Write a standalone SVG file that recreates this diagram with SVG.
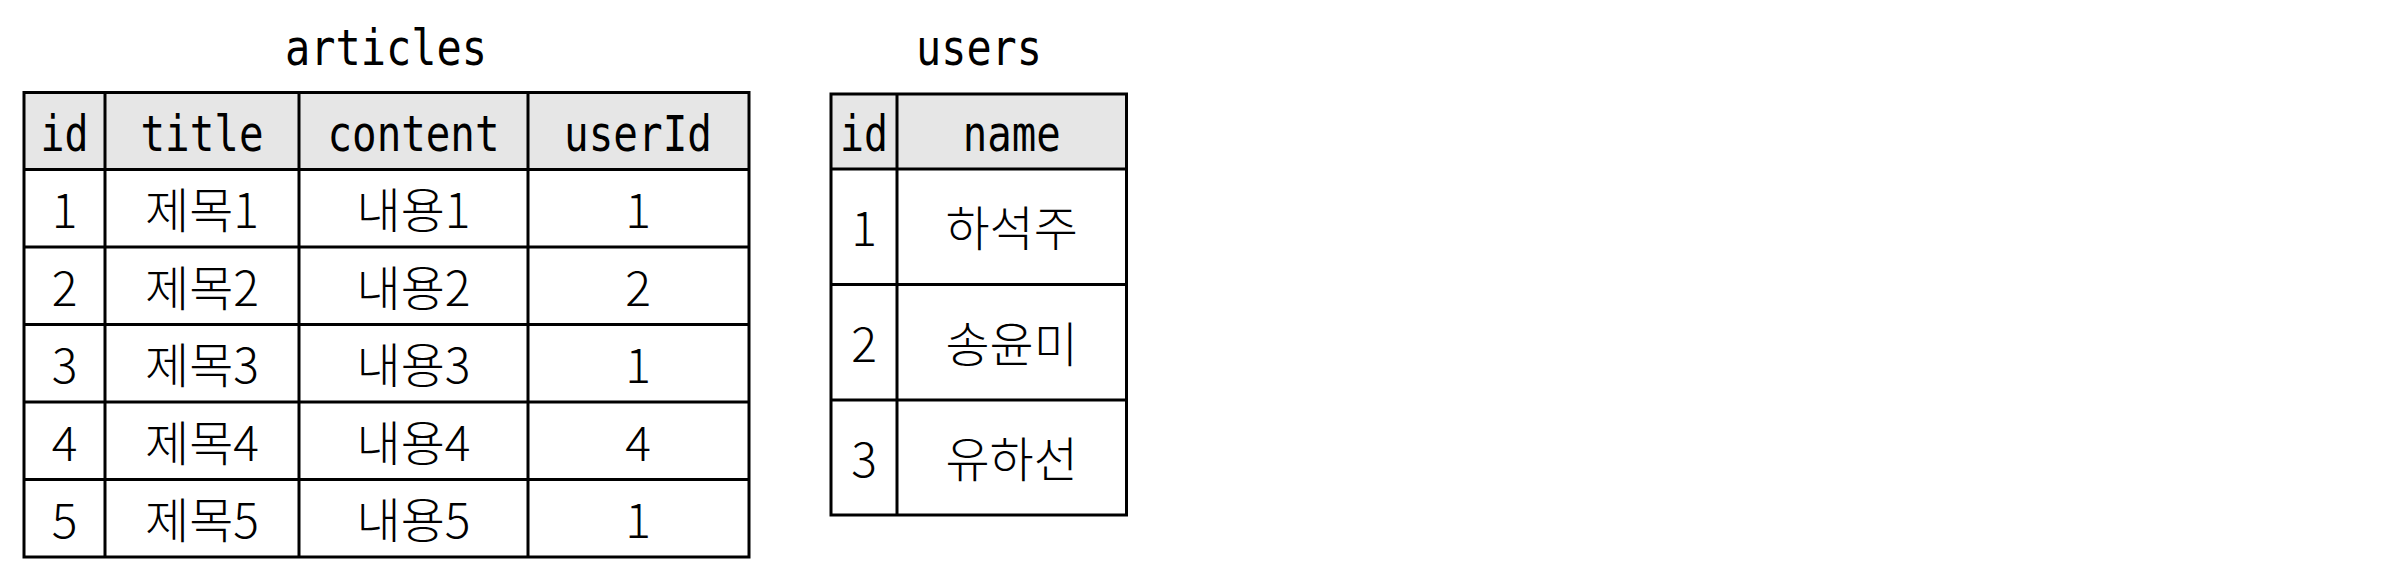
<svg xmlns="http://www.w3.org/2000/svg" width="2402" height="572" viewBox="0 0 2402 572">
<style>
.bg{fill:#ffffff}
.hdr{fill:#e6e6e6;stroke:none}
.grid{stroke:#000;stroke-width:3;fill:none}
.mono{font-family:"DejaVu Sans Mono","Liberation Mono",monospace;font-size:50px;fill:#000;text-anchor:middle}
.cell{font-family:"Noto Sans CJK KR","Noto Sans",sans-serif;font-weight:300;font-size:48px;fill:#000;text-anchor:middle}
</style>
<rect class="bg" x="0" y="0" width="2402" height="572"/>
<g id="articles">
  <text class="mono" x="386" y="65" textLength="202" lengthAdjust="spacingAndGlyphs">articles</text>
  <rect class="hdr" x="24" y="92.5" width="725" height="77"/>
  <g class="grid">
    <rect x="24" y="92.5" width="725" height="464.5"/>
    <line x1="24" y1="169.5" x2="749" y2="169.5"/>
    <line x1="24" y1="247" x2="749" y2="247"/>
    <line x1="24" y1="324.5" x2="749" y2="324.5"/>
    <line x1="24" y1="402" x2="749" y2="402"/>
    <line x1="24" y1="479.5" x2="749" y2="479.5"/>
    <line x1="105" y1="92.5" x2="105" y2="557"/>
    <line x1="299" y1="92.5" x2="299" y2="557"/>
    <line x1="528" y1="92.5" x2="528" y2="557"/>
  </g>
  <text class="mono" x="64.5" y="151" textLength="48" lengthAdjust="spacingAndGlyphs">id</text>
  <text class="mono" x="202" y="151" textLength="123" lengthAdjust="spacingAndGlyphs">title</text>
  <text class="mono" x="413.5" y="151" textLength="172" lengthAdjust="spacingAndGlyphs">content</text>
  <text class="mono" x="638" y="151" textLength="148" lengthAdjust="spacingAndGlyphs">userId</text>
  <text class="cell" x="64.5" y="228">1</text>
  <text class="cell" x="202" y="228">제목1</text>
  <text class="cell" x="413.5" y="228">내용1</text>
  <text class="cell" x="638" y="228">1</text>
  <text class="cell" x="64.5" y="305.5">2</text>
  <text class="cell" x="202" y="305.5">제목2</text>
  <text class="cell" x="413.5" y="305.5">내용2</text>
  <text class="cell" x="638" y="305.5">2</text>
  <text class="cell" x="64.5" y="383">3</text>
  <text class="cell" x="202" y="383">제목3</text>
  <text class="cell" x="413.5" y="383">내용3</text>
  <text class="cell" x="638" y="383">1</text>
  <text class="cell" x="64.5" y="460.5">4</text>
  <text class="cell" x="202" y="460.5">제목4</text>
  <text class="cell" x="413.5" y="460.5">내용4</text>
  <text class="cell" x="638" y="460.5">4</text>
  <text class="cell" x="64.5" y="538">5</text>
  <text class="cell" x="202" y="538">제목5</text>
  <text class="cell" x="413.5" y="538">내용5</text>
  <text class="cell" x="638" y="538">1</text>
</g>
<g id="users">
  <text class="mono" x="979" y="65" textLength="126" lengthAdjust="spacingAndGlyphs">users</text>
  <rect class="hdr" x="831" y="94" width="295.5" height="75"/>
  <g class="grid">
    <rect x="831" y="94" width="295.5" height="421"/>
    <line x1="831" y1="169" x2="1126.5" y2="169"/>
    <line x1="831" y1="284.5" x2="1126.5" y2="284.5"/>
    <line x1="831" y1="400" x2="1126.5" y2="400"/>
    <line x1="897" y1="94" x2="897" y2="515"/>
  </g>
  <text class="mono" x="864" y="151" textLength="48" lengthAdjust="spacingAndGlyphs">id</text>
  <text class="mono" x="1011.7" y="151" textLength="98" lengthAdjust="spacingAndGlyphs">name</text>
  <text class="cell" x="864" y="246">1</text>
  <text class="cell" x="1011.7" y="246">하석주</text>
  <text class="cell" x="864" y="361.5">2</text>
  <text class="cell" x="1011.7" y="361.5">송윤미</text>
  <text class="cell" x="864" y="477">3</text>
  <text class="cell" x="1011.7" y="477">유하선</text>
</g>
<g id="connectors"></g>
</svg>
